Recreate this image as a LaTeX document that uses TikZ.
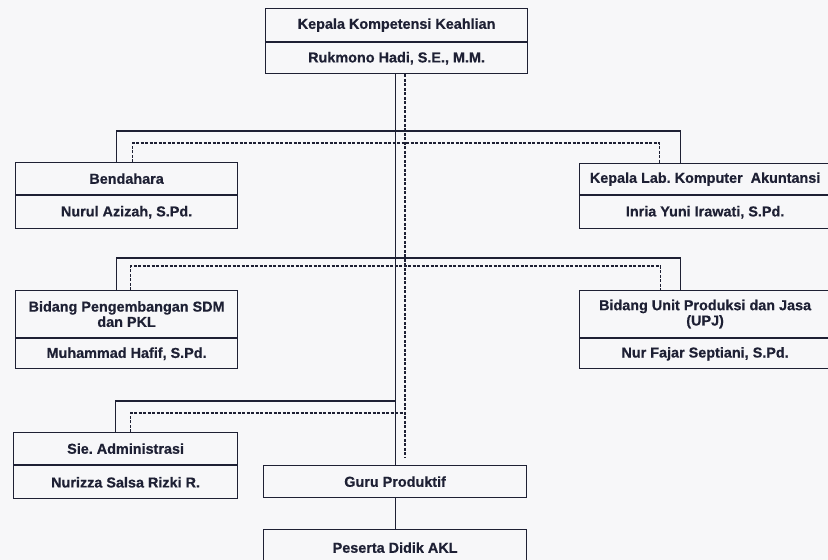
\documentclass[tikz,border=0pt]{standalone}
\usepackage{fontspec}
\setmainfont{Liberation Sans}[BoldFeatures={FakeBold=0.6}]
\usetikzlibrary{positioning}
\definecolor{garis}{RGB}{30,32,52}
\definecolor{kertas}{RGB}{247,247,249}
\tikzset{
  kotak/.style={draw=garis, line width=1.2pt, inner sep=0pt, anchor=north west,
    align=center, text=garis, font=\bfseries\fontsize{14.4}{15.3}\selectfont},
  garisjab/.style={draw=garis, line width=1.2pt},
  gariskoor/.style={draw=garis, line width=1.2pt, dash pattern=on 3pt off 1.5pt},
}
\frenchspacing
\begin{document}
\begin{tikzpicture}[x=1pt,y=-1pt]
    \useasboundingbox[fill=kertas] (0,0) rectangle (828,560);
    % kepala kompetensi keahlian
    \node[kotak, minimum width=262pt, minimum height=33pt] (kk) at (265,8) {Kepala Kompetensi Keahlian};
    \node[kotak, minimum width=262pt, minimum height=31pt] (kkn) at (kk.south west) {Rukmono Hadi, S.E., M.M.};
    % baris pertama
    \node[kotak, minimum width=222pt, minimum height=32pt] (bend) at (15,162) {Bendahara};
    \node[kotak, minimum width=222pt, minimum height=33pt] (bendn) at (bend.south west) {Nurul Azizah, S.Pd.};
    \node[kotak, minimum width=251pt, minimum height=31pt] (lab) at (579,163) {Kepala Lab. Komputer~ Akuntansi};
    \node[kotak, minimum width=251pt, minimum height=33pt] (labn) at (lab.south west) {Inria Yuni Irawati, S.Pd.};
    % baris kedua
    \node[kotak, minimum width=222pt, minimum height=47pt] (sdm) at (15,290) {Bidang Pengembangan SDM\\dan PKL};
    \node[kotak, minimum width=222pt, minimum height=30pt] (sdmn) at (sdm.south west) {Muhammad Hafif, S.Pd.};
    \node[kotak, minimum width=251pt, minimum height=47pt] (upj) at (579,290) {Bidang Unit Produksi dan Jasa\\(UPJ)};
    \node[kotak, minimum width=251pt, minimum height=30pt] (upjn) at (upj.south west) {Nur Fajar Septiani, S.Pd.};
    % baris ketiga
    \node[kotak, minimum width=224pt, minimum height=32pt] (adm) at (13,432) {Sie. Administrasi};
    \node[kotak, minimum width=224pt, minimum height=33pt] (admn) at (adm.south west) {Nurizza Salsa Rizki R.};
    \node[kotak, minimum width=263pt, minimum height=32pt] (guru) at (263,465) {Guru Produktif};
    \node[kotak, minimum width=263pt, minimum height=36pt] (didik) at (263,529) {Peserta Didik AKL};
    \coordinate (ujung) at (405,457);
    % garis komando
    \draw[garisjab] (kkn.south -| guru.north) -- (guru.north);
    \draw[garisjab] (guru.south) -- (didik.north);
    \draw[garisjab] ([xshift=-10pt]bend.north) -- ++(0,-31) -| ([xshift=-24.5pt]lab.north);
    \draw[garisjab] ([xshift=-10pt]sdm.north) -- ++(0,-32) -| ([xshift=-24.5pt]upj.north);
    \draw[garisjab] ([xshift=-10pt]adm.north) -- ++(0,-31) -| (guru.north);
    % garis koordinasi
    \draw[gariskoor] (kkn.south -| ujung) -- (ujung);
    \draw[gariskoor] ([xshift=6pt]bend.north) -- ++(0,-19) -| ([xshift=-45.5pt]lab.north);
    \draw[gariskoor] ([xshift=4pt]sdm.north) -- ++(0,-24) -| ([xshift=-44.5pt]upj.north);
    \draw[gariskoor] ([xshift=5pt]adm.north) -- ++(0,-19) -- ++(275,0);
\end{tikzpicture}
\end{document}
